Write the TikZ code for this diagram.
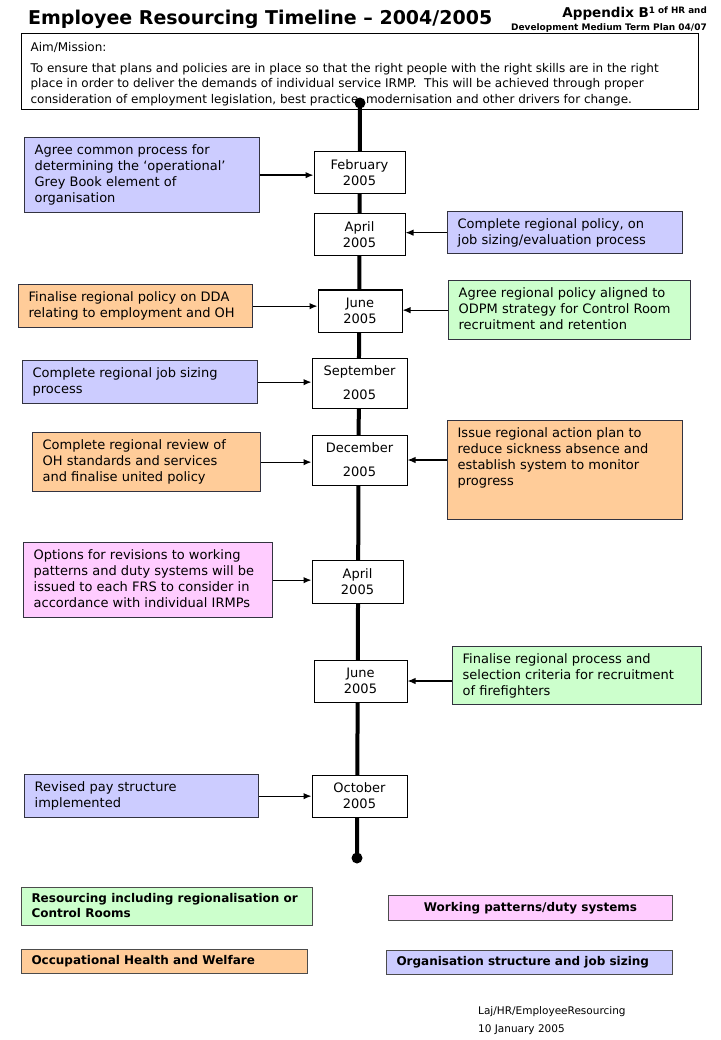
\documentclass[tikz,border=0pt]{standalone}
\usepackage{fontspec}
\setmainfont{DejaVu Sans}
\usetikzlibrary{arrows.meta}
\definecolor{cblue}{HTML}{CCCCFF}
\definecolor{corange}{HTML}{FFCC99}
\definecolor{cgreen}{HTML}{CCFFCC}
\definecolor{cpink}{HTML}{FFCCFF}
\definecolor{cborder}{HTML}{333340}
\newcommand\tasktext[4]{\parbox[c][#2pt][t]{\dimexpr#1pt-20pt\relax}{\vspace*{#3pt}\raggedright\strut #4}}
\tikzset{
  task/.style={draw=cborder, line width=1.3pt, inner xsep=10pt, inner ysep=0pt, anchor=north west, font=\fontsize{13}{16}\selectfont},
  datebox/.style={draw=black, line width=1pt, fill=white, align=center, inner sep=0pt, font=\fontsize{13}{16}\selectfont},
  legend/.style={draw=black!70, line width=1pt, inner xsep=10pt, inner ysep=0pt, anchor=north west, font=\bfseries\fontsize{12}{15}\selectfont},
  arr/.style={line width=1.3pt, -{Latex[length=8pt,width=6.5pt]}},
}
\begin{document}
\begin{tikzpicture}[x=1pt,y=-1pt]
\fill[white] (0,0) rectangle (720,1040);
\useasboundingbox (0,0) rectangle (720,1040);

% header
\node[anchor=base west, inner sep=0pt, font=\bfseries\fontsize{19}{22}\selectfont] (title) at (28,25) {Employee Resourcing Timeline – 2004/2005};
\node[anchor=base east, inner sep=0pt, font=\bfseries\fontsize{13.5}{16}\selectfont] (app) at (707,18) {Appendix B\raisebox{4pt}{\fontsize{8.8}{10}\selectfont 1 of HR and}};
\node[anchor=base east, inner sep=0pt, font=\bfseries\fontsize{9}{11}\selectfont] (plan) at (707,31) {Development Medium Term Plan 04/07};

% aim box
\node[draw=black, line width=1.2pt, fill=white, inner xsep=9pt, inner ysep=0pt, anchor=north west, font=\fontsize{12}{15.5}\selectfont] (aim) at (21,33)
  {\parbox[c][76pt][t]{659pt}{\vspace*{7pt}\raggedright\strut Aim/Mission:\\[5.5pt]
  To ensure that plans and policies are in place so that the right people with the right skills are in the right\\
  place in order to deliver the demands of individual service IRMP.\ \ This will be achieved through proper\\
  consideration of employment legislation, best practice, modernisation and other drivers for change.}};

% timeline
\coordinate (ttop) at (360,103);
\coordinate (tbot) at (357,858);
\draw[line width=4pt] (ttop) -- (tbot);
\fill (ttop) circle (5.5pt);
\fill (tbot) circle (5.5pt);

% date boxes
\node[datebox, minimum width=91pt, minimum height=42pt] (d1) at (359.5,173) {February\\2005};
\node[datebox, minimum width=91pt, minimum height=42pt] (d2) at (359.5,235) {April\\2005};
\node[datebox, minimum width=84pt, minimum height=42pt] (d3) at (360,311) {June\\2005};
\node[datebox, minimum width=95pt, minimum height=50pt] (d4) at (359.5,383) {September\\[8pt]2005};
\node[datebox, minimum width=95pt, minimum height=50pt] (d5) at (359.5,460) {December\\[8pt]2005};
\node[datebox, minimum width=91pt, minimum height=43pt] (d6) at (357.5,581.5) {April\\2005};
\node[datebox, minimum width=93pt, minimum height=42pt] (d7) at (360.5,681) {June\\2005};
\node[datebox, minimum width=95pt, minimum height=42pt] (d8) at (359.5,796) {October\\2005};

% task boxes
\node[task, fill=cblue] (t1) at (24,137) {\tasktext{235}{75}{6}{Agree common process for\\determining the ‘operational’\\Grey Book element of\\organisation}};
\node[task, fill=cblue] (t2) at (447,211) {\tasktext{235}{42}{6}{Complete regional policy, on\\job sizing/evaluation process}};
\node[task, fill=corange] (t3) at (18,284) {\tasktext{234}{43}{6}{Finalise regional policy on DDA\\relating to employment and OH}};
\node[task, fill=cgreen] (t4) at (448,280) {\tasktext{242}{59}{6}{Agree regional policy aligned to\\ODPM strategy for Control Room\\recruitment and retention}};
\node[task, fill=cblue] (t5) at (22,360) {\tasktext{235}{43}{6}{Complete regional job sizing\\process}};
\node[task, fill=corange] (t6) at (32,432) {\tasktext{228}{59}{6}{Complete regional review of\\OH standards and services\\and finalise united policy}};
\node[task, fill=corange] (t7) at (447,420) {\tasktext{235}{99}{6}{Issue regional action plan to\\reduce sickness absence and\\establish system to monitor\\progress}};
\node[task, fill=cpink] (t8) at (23,542) {\tasktext{249}{75}{6}{Options for revisions to working\\patterns and duty systems will be\\issued to each FRS to consider in\\accordance with individual IRMPs}};
\node[task, fill=cgreen] (t9) at (452,646) {\tasktext{249}{58}{6}{Finalise regional process and\\selection criteria for recruitment\\of firefighters}};
\node[task, fill=cblue] (t10) at (24,774) {\tasktext{234}{43}{6}{Revised pay structure\\implemented}};

% connectors
\draw[arr] (t1.east) -- (t1.east -| d1.west);
\draw[arr] (t2.west) -- (t2.west -| d2.east);
\draw[arr] (t3.east) -- (t3.east -| d3.west);
\draw[arr] (t4.west) -- (t4.west -| d3.east);
\draw[arr] (t5.east) -- (t5.east -| d4.west);
\draw[arr] (t6.east) -- (t6.east -| d5.west);
\draw[arr] (t7.west |- d5.east) -- (d5.east);
\draw[arr] (t8.east) -- (t8.east -| d6.west);
\draw[arr] (t9.west |- d7.east) -- (d7.east);
\draw[arr] (t10.east) -- (t10.east -| d8.west);

% legend
\node[legend, fill=cgreen] (l1) at (21,887) {\parbox[c][38pt][t]{271pt}{\vspace*{4pt}\raggedright\strut Resourcing including regionalisation or\\Control Rooms}};
\node[legend, fill=cpink, minimum width=284pt, minimum height=25pt, anchor=north west] (l2) at (388,895) {Working patterns/duty systems};
\node[legend, fill=corange, anchor=north west] (l3) at (21,949) {\parbox[c][24pt][c]{266pt}{\raggedright Occupational Health and Welfare}};
\node[legend, fill=cblue, anchor=north west] (l4) at (386,950) {\parbox[c][24pt][c]{266pt}{\raggedright Organisation structure and job sizing}};

% footer
\node[anchor=base west, inner sep=0pt, font=\fontsize{10.5}{13}\selectfont] (f1) at (478,1014) {Laj/HR/EmployeeResourcing};
\node[anchor=base west, inner sep=0pt, font=\fontsize{10.5}{13}\selectfont] (f2) at (478,1032) {10 January 2005};
\end{tikzpicture}
\end{document}
